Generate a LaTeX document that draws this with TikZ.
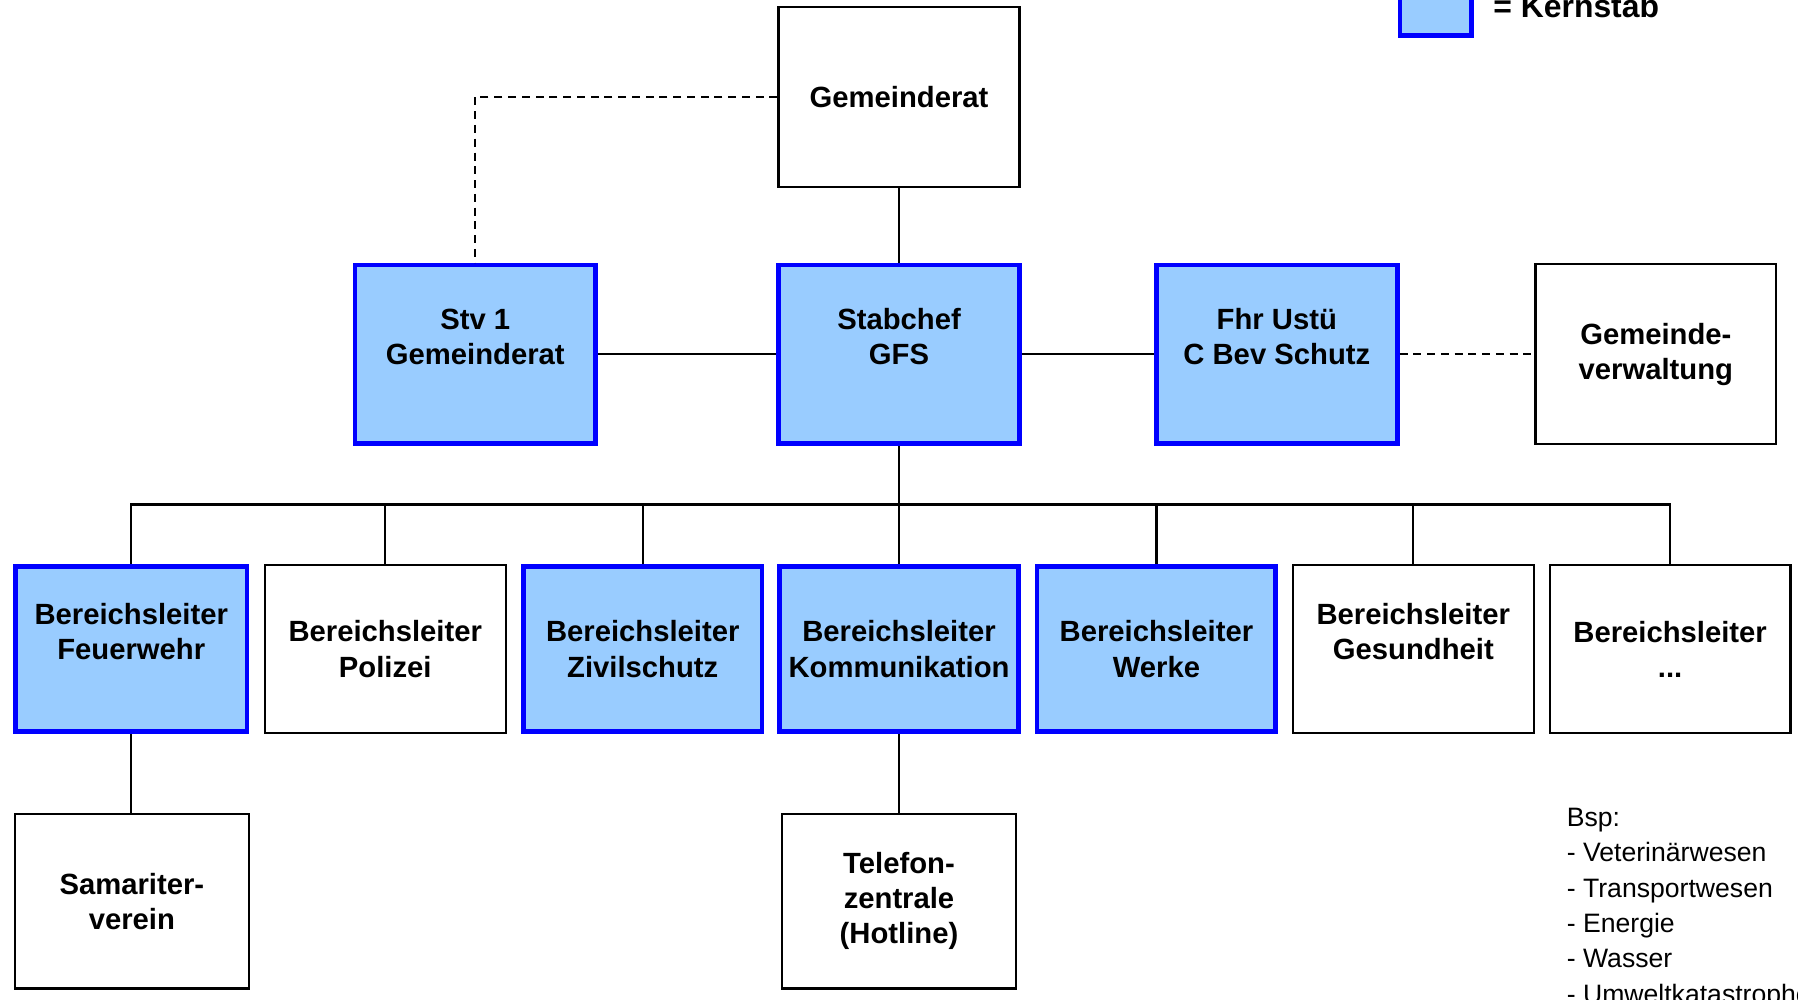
\documentclass[tikz,border=0pt]{standalone}
\usepackage{fontspec}
\setmainfont{Liberation Sans}
\definecolor{kfill}{HTML}{99CCFF}
\definecolor{kblue}{HTML}{0000FF}
\begin{document}
\begin{tikzpicture}[x=0.5pt,y=-0.5pt,
  box/.style={draw=black, line width=1pt, fill=white, align=center, inner sep=0pt,
    font=\fontsize{12.75}{15.3}\selectfont\bfseries, minimum width=105pt, minimum height=73pt},
  kern/.style={box, fill=kfill, draw=kblue, line width=2pt},
  conn/.style={line width=1pt},
  dash line/.style={line width=0.8pt, dash pattern=on 3.5pt off 2.5pt}]
\clip (0,0) rectangle (1568,872);
\fill[white] (0,0) rectangle (1568,872);
% top
\node[box, minimum height=78.5pt] (gr) at (784,84.5) {Gemeinderat};
% row 2
\node[kern, minimum height=78pt] (stv) at (414.5,309) {Stv 1\\Gemeinderat\\\mbox{}};
\node[kern, minimum height=78pt] (sc) at (784,309) {Stabchef\\GFS\\\mbox{}};
\node[kern, minimum height=78pt] (fhr) at (1113.5,309) {Fhr Ustü\\C Bev Schutz\\\mbox{}};
\node[box, minimum height=78.5pt] (gv) at (1444,309) {Gemeinde-\\verwaltung};
% row 3
\node[kern, minimum width=101pt, minimum height=72pt] (fw) at (114.5,566) {Bereichsleiter\\Feuerwehr\\\mbox{}};
\node[box] (pol) at (336,566) {Bereichsleiter\\Polizei};
\node[kern, minimum width=104pt, minimum height=72pt] (ziv) at (560.5,566) {Bereichsleiter\\Zivilschutz};
\node[kern, minimum width=104pt, minimum height=72pt] (kom) at (784,566) {Bereichsleiter\\Kommunikation};
\node[kern, minimum width=104pt, minimum height=72pt] (wer) at (1008.5,566) {Bereichsleiter\\Werke};
\node[box] (ges) at (1232.5,566) {Bereichsleiter\\Gesundheit\\\mbox{}};
\node[box] (dots) at (1456.5,566) {Bereichsleiter\\...};
% row 4
\node[box, minimum width=102pt, minimum height=76pt] (sam) at (115,786) {Samariter-\\verein};
\node[box, minimum width=102pt, minimum height=76pt] (tel) at (784,786) {Telefon-\\zentrale\\(Hotline)};
% connectors
\coordinate (bus) at (784,440);
\draw[conn] (gr.south) -- (sc.north);
\draw[conn] (stv.east) -- (sc.west);
\draw[conn] (sc.east) -- (fhr.west);
\draw[dash line] (fhr.east) -- (gv.west);
\draw[dash line] (gr.west) -| (stv.north);
\draw[conn] (sc.south) -- (kom.north);
\draw[conn] (fw.north) |- (bus) -| (dots.north);
\draw[conn] (pol.north) -- (pol.north |- bus);
\draw[conn] (ziv.north) -- (ziv.north |- bus);
\draw[conn] (wer.north) -- (wer.north |- bus);
\draw[conn] (ges.north) -- (ges.north |- bus);
\draw[conn] (fw.south) -- (fw.south |- sam.north);
\draw[conn] (kom.south) -- (tel.north);
% legend
\node[kern, minimum width=31pt, minimum height=40pt] (leg) at (1252,-9) {};
\node[anchor=base west, inner sep=0pt, font=\fontsize{13.9}{16}\selectfont\bfseries] (legt) at (1302,15) {= Kernstab};
% examples
\node[anchor=north west, inner sep=0pt, align=left, font=\fontsize{11.6}{15.4}\selectfont] (bsp) at (1366,704.5)
  {Bsp:\\- Veterinärwesen\\- Transportwesen\\- Energie\\- Wasser\\- Umweltkatastrophen};
\end{tikzpicture}
\end{document}
